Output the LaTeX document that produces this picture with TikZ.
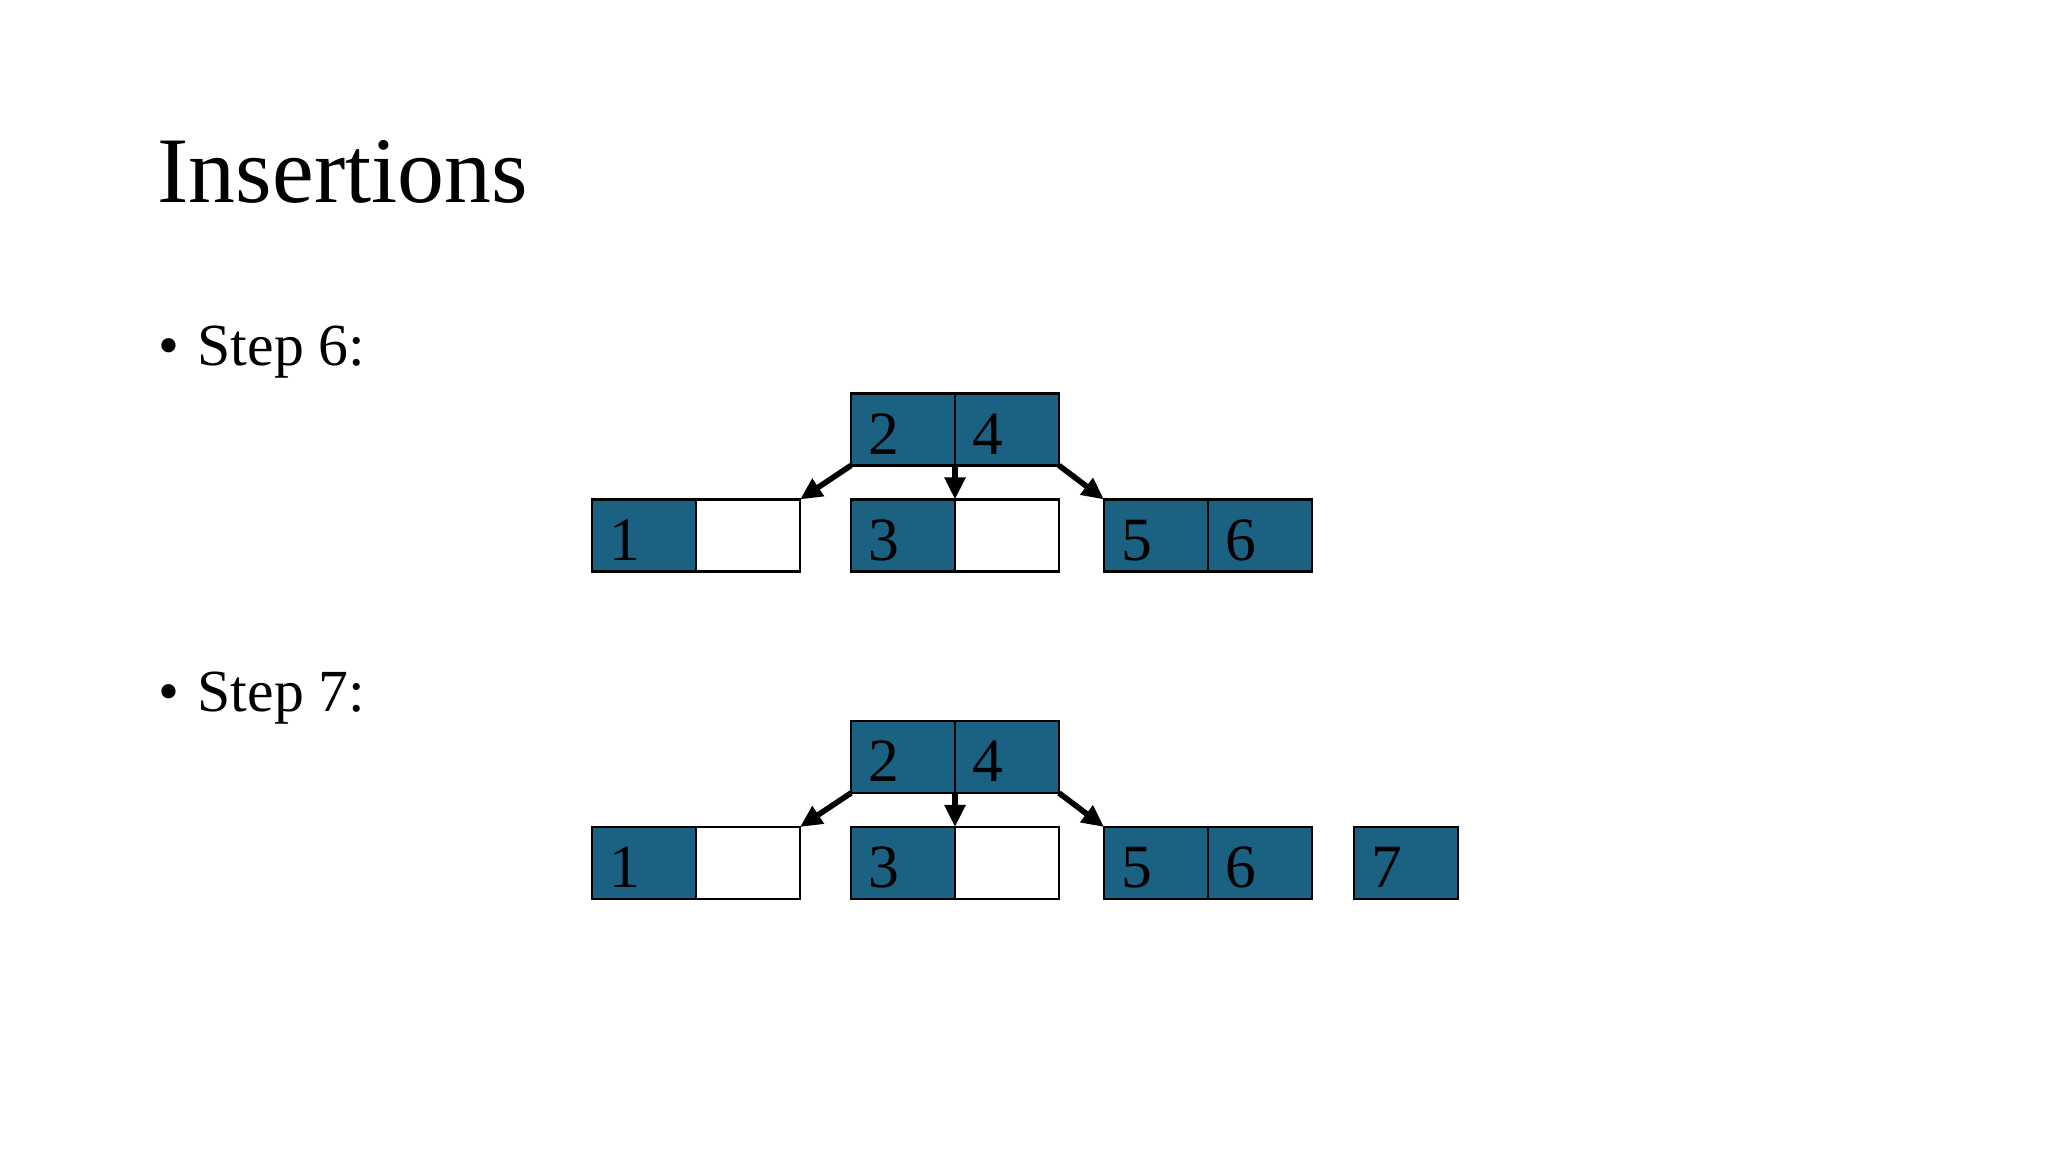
\documentclass[tikz,border=0pt]{standalone}
\usepackage{fontspec}
\setmainfont{Liberation Serif}
\usetikzlibrary{positioning,arrows.meta}
\definecolor{keyblue}{RGB}{26,97,130}
\tikzset{cell/.style={draw=black, line width=0.7pt, outer sep=0pt, inner xsep=0.17cm,
    text width=0.70cm, align=left, minimum height=0.72cm, inner ysep=0pt,
    text height=0.50cm, text depth=0cm, font=\fontsize{17.5}{20}\selectfont}}
\tikzset{keyc/.style={cell, fill=keyblue}}
\tikzset{emptyc/.style={cell, fill=white}}
\tikzset{arr/.style={draw, -{Triangle[length=0.22cm,width=0.2cm]}, line width=1.6pt}}
\tikzset{bodytext/.style={anchor=base west, inner sep=0pt, font=\fontsize{17}{20}\selectfont}}

\begin{document}
\begin{tikzpicture}
	\useasboundingbox (0,0) rectangle (20.48,11.52);
	\node[anchor=base west, inner sep=0pt, font=\fontsize{26.7}{30}\selectfont] (title) at (1.57,9.49) {Insertions};
	%
	\node[bodytext] (b6) at (1.58,7.86) {\textbullet};
	\node[bodytext] (s6) at (1.97,7.86) {Step 6:};
	% step 6 tree
	\node[keyc] (ra1) at (9.03,7.225) {2};
	\node[keyc,right=0 of ra1] (ra2) {4};
	\node[keyc,below=0.34 of ra1] (ma1) {3};
	\node[emptyc,right=0 of ma1] (ma2) {};
	\node[emptyc,left=0.51 of ma1] (la2) {};
	\node[keyc,left=0 of la2] (la1) {1};
	\node[keyc,right=0.45 of ma2] (na1) {5};
	\node[keyc,right=0 of na1] (na2) {6};
	%
	\draw[arr] (ra1.south west) -- (la2.north east);
	\draw[arr] (ra1.south east) -- (ma1.north east);
	\draw[arr] (ra2.south east) -- (na1.north west);
	%
	\node[bodytext] (b7) at (1.58,4.40) {\textbullet};
	\node[bodytext] (s7) at (1.97,4.40) {Step 7:};
	% step 7 tree
	\node[keyc] (rb1) at (9.03,3.95) {2};
	\node[keyc,right=0 of rb1] (rb2) {4};
	\node[keyc,below=0.34 of rb1] (mb1) {3};
	\node[emptyc,right=0 of mb1] (mb2) {};
	\node[emptyc,left=0.51 of mb1] (lb2) {};
	\node[keyc,left=0 of lb2] (lb1) {1};
	\node[keyc,right=0.45 of mb2] (nb1) {5};
	\node[keyc,right=0 of nb1] (nb2) {6};
	\node[keyc,right=0.42 of nb2] (sb1) {7};
	%
	\draw[arr] (rb1.south west) -- (lb2.north east);
	\draw[arr] (rb1.south east) -- (mb1.north east);
	\draw[arr] (rb2.south east) -- (nb1.north west);
\end{tikzpicture}
\end{document}
